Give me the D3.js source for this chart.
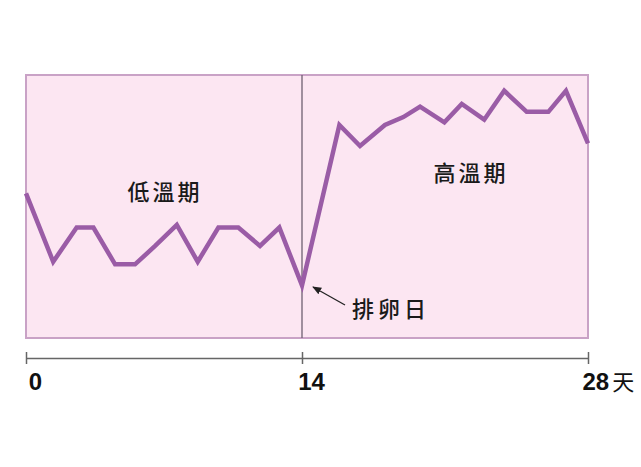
<!DOCTYPE html>
<html>
<head>
<meta charset="utf-8">
<script src="https://cdn.jsdelivr.net/npm/d3@7"></script>
<style>
  body { margin: 0; background: #fff; }
  svg { display: block; }
</style>
</head>
<body>
<svg id="chart" width="641" height="467"></svg>
<script>
// cycle days (as drawn, slightly irregular) and basal temperature
var days = [0, 1.38, 2.57, 3.42, 4.52, 5.53, 6.55, 7.65, 8.71, 9.76, 10.77, 11.87, 12.85, 14,
            15.83, 16.84, 18.06, 18.96, 19.78, 20.97, 21.82, 22.92, 23.9, 25.0, 26.06, 26.92, 28];
var temps = [36.55, 36.29, 36.42, 36.42, 36.28, 36.28, 36.35, 36.43, 36.29, 36.42, 36.42, 36.35, 36.42, 36.20,
             36.81, 36.73, 36.81, 36.84, 36.88, 36.82, 36.89, 36.83, 36.94, 36.86, 36.86, 36.94, 36.74];
var tickDays = [0, 14, 28];
var phaseLabels = ["低溫期", "高溫期"];
var ovulationLabel = "排卵日";
var unitLabel = "天";

var svg = d3.select("#chart");

// x is piecewise: the two phases are not drawn quite the same width
var x = d3.scaleLinear().domain([0, 14, 28]).range([26, 302, 588]);
var y = d3.scaleLinear().domain([36.0, 37.0]).range([338, 75]);

var cjk = "'Noto Sans CJK TC', 'Noto Sans CJK SC', sans-serif";

// background panel
svg.append("rect")
    .attr("x", x(0))
    .attr("y", y(37.0))
    .attr("width", x(28) - x(0))
    .attr("height", y(36.0) - y(37.0))
    .attr("fill", "#fce6f2")
    .attr("stroke", "#c9a2c6")
    .attr("stroke-width", 2);

// ovulation divider
svg.append("line")
    .attr("x1", x(14)).attr("x2", x(14))
    .attr("y1", y(37.0)).attr("y2", y(36.0))
    .attr("stroke", "#6e6070")
    .attr("stroke-width", 1.3);

// temperature line
var line = d3.line()
    .x(function(d, i) { return x(days[i]); })
    .y(function(d) { return y(d); });

svg.append("path")
    .datum(temps)
    .attr("fill", "none")
    .attr("stroke", "#9a5ca6")
    .attr("stroke-width", 4.5)
    .attr("stroke-linejoin", "miter")
    .attr("d", line);

// phase labels
function cjkLabel(px, py, txt, spacing) {
    return svg.append("text")
        .attr("x", px).attr("y", py)
        .attr("dy", "0.36em")
        .style("font-family", cjk)
        .style("font-size", "22px")
        .style("font-weight", 500)
        .style("letter-spacing", spacing + "px")
        .attr("fill", "#1a1a1a")
        .text(txt);
}

cjkLabel(165, 192, phaseLabels[0], 3).attr("text-anchor", "middle");
cjkLabel(471, 173, phaseLabels[1], 3).attr("text-anchor", "middle");

// ovulation arrow + label
svg.append("defs").append("marker")
    .attr("id", "arrow")
    .attr("viewBox", "0 0 10 10")
    .attr("refX", 9).attr("refY", 5)
    .attr("markerWidth", 7).attr("markerHeight", 7)
    .attr("orient", "auto")
    .append("path")
    .attr("d", "M0,1 L10,5 L0,9 Z")
    .attr("fill", "#222");

svg.append("line")
    .attr("x1", 345).attr("y1", 305)
    .attr("x2", 313).attr("y2", 287)
    .attr("stroke", "#222")
    .attr("stroke-width", 1.3)
    .attr("marker-end", "url(#arrow)");

cjkLabel(352, 309, ovulationLabel, 4);

// bottom day axis
var xAxis = d3.axisBottom(x)
    .tickValues(tickDays)
    .tickSize(12)
    .tickSizeOuter(0)
    .tickPadding(9)
    .tickFormat(d3.format("d"));

var gx = svg.append("g")
    .attr("transform", "translate(0,352)")
    .call(xAxis);

gx.select(".domain")
    .attr("transform", "translate(0,6)")
    .attr("stroke", "#666")
    .attr("stroke-width", 1.5);

gx.selectAll(".tick line")
    .attr("stroke", "#666")
    .attr("stroke-width", 1.5);

gx.selectAll(".tick text")
    .attr("fill", "#111")
    .style("font-family", "'Liberation Sans', Arial, sans-serif")
    .style("font-size", "24px")
    .style("font-weight", "bold")
    .attr("text-anchor", "middle")
    .attr("dx", 9);

gx.selectAll(".tick text")
    .filter(function(d) { return d === 28; })
    .attr("text-anchor", "start")
    .attr("dx", -6)
    .append("tspan")
    .attr("dx", 3)
    .style("font-family", cjk)
    .style("font-weight", "normal")
    .style("font-size", "22px")
    .text(unitLabel);
</script>
</body>
</html>
